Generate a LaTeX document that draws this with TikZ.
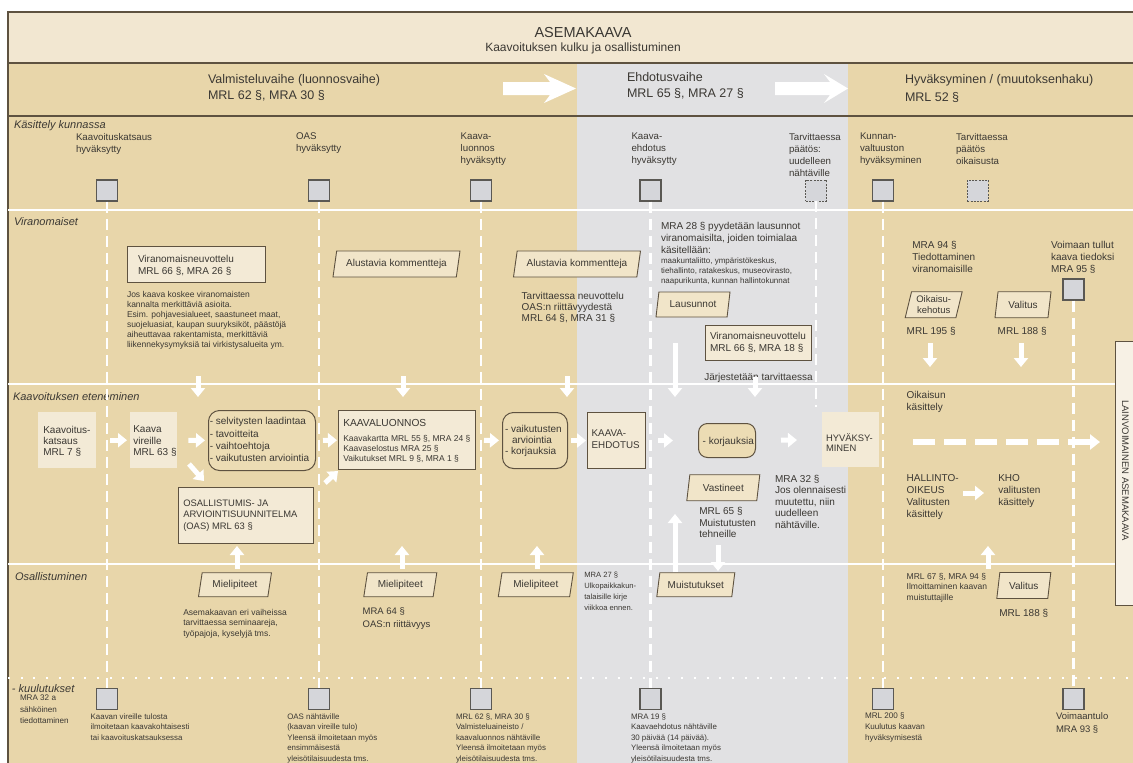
\documentclass[tikz,border=0pt]{standalone}
\usepackage{fontspec}
\setmainfont{Liberation Sans}
\usetikzlibrary{arrows.meta,shapes.geometric}
\definecolor{tanbg}{RGB}{232,214,170}
\definecolor{greybg}{RGB}{225,225,227}
\definecolor{titlebg}{RGB}{242,231,209}
\definecolor{boxcream}{RGB}{243,234,214}
\definecolor{lightcream}{RGB}{247,241,229}
\definecolor{roundfill}{RGB}{236,220,180}
\definecolor{paracream}{RGB}{241,229,201}
\definecolor{cbfill}{RGB}{213,214,218}
\definecolor{cbline}{RGB}{90,88,83}
\definecolor{brownline}{RGB}{94,82,64}
\definecolor{ink}{RGB}{59,56,51}
\newcommand\fsz[2]{\fontsize{#1}{#2}\selectfont}
\begin{document}
\begin{tikzpicture}[x=1pt,y=-1pt,
  tx/.style={inner sep=0pt, outer sep=0pt, anchor=north west, align=left, text=ink},
  lane/.style={tx, font={\fsz{11}{13}\itshape}},
  cblab/.style={tx, font={\fsz{9.7}{12}}},
  cb/.style={draw=cbline, fill=cbfill, line width=1.1pt, minimum size=21pt, inner sep=0pt},
  cbd/.style={cb, dash pattern=on 2pt off 1.3pt, line width=0.9pt},
  sqbox/.style={draw=brownline, fill=boxcream, line width=1pt, inner sep=0pt, anchor=north west},
  plainbox/.style={fill=boxcream, inner sep=0pt, anchor=north west},
  rbox/.style={draw=brownline, fill=roundfill, line width=1pt, inner sep=0pt, anchor=north west, rounded corners=11pt},
  para/.style={trapezium, trapezium left angle=72, trapezium right angle=108, trapezium stretches body=true, draw=brownline, fill=paracream, line width=0.9pt, inner sep=1pt, text=ink, font={\fsz{10}{11}}, align=center},
  warr/.style={draw=white, line width=5pt, -{Triangle[width=14pt,length=9pt]}},
  vdash/.style={draw=white, line width=2.2pt, dash pattern=on 11pt off 6pt},
]
\useasboundingbox (0,0) rectangle (1133,763);
\clip (0,0) rectangle (1133,763);
% backgrounds
\fill[white] (0,0) rectangle (1133,763);
\fill[titlebg] (8,12) rectangle (1133,63);
\fill[tanbg] (8,63) rectangle (577,763);
\fill[greybg] (577,63) rectangle (848,763);
\fill[tanbg] (848,63) rectangle (1133,763);
\draw[brownline, line width=1.2pt] (1133,12) -- (8,12) -- (8,763);
\draw[brownline, line width=1.2pt] (8,63) -- (1133,63);
\draw[brownline, line width=1.2pt] (8,116) -- (1133,116);
% lane separators
\draw[white, line width=2pt] (8,210) -- (1133,210);
\draw[white, line width=2pt] (8,384) -- (1133,384);
\draw[white, line width=2pt] (8,564) -- (1133,564);
\draw[white, line width=2pt, dash pattern=on 2pt off 10.7pt] (8,678) -- (1133,678);
% phase arrows
\fill[white] (503,82) -- (550,82) -- (544,74) -- (576,88.5) -- (544,103) -- (550,95) -- (503,95) -- cycle;
\fill[white] (775,82) -- (830,82) -- (824,74) -- (848,88.5) -- (824,103) -- (830,95) -- (775,95) -- cycle;
% title
\node[anchor=base, font={\fsz{14.5}{16}}, text=ink, inner sep=0pt] (title) at (583,37) {ASEMAKAAVA};
\node[anchor=base, font={\fsz{12}{14}}, text=ink, inner sep=0pt] (subtitle) at (583,51.5) {Kaavoituksen kulku ja osallistuminen};
\node[tx, font={\fsz{12.5}{16}}] (ph1) at (208,74.5) {Valmisteluvaihe (luonnosvaihe)\\MRL 62 §, MRA 30 §};
\node[tx, font={\fsz{12.5}{16.5}}] (ph2) at (627,72) {Ehdotusvaihe\\MRL 65 §, MRA 27 §};
\node[tx, font={\fsz{12.5}{18}}] (ph3) at (905,74) {Hyväksyminen / (muutoksenhaku)\\MRL 52 §};
% lane labels
\node[lane] (lane1) at (14,120.5) {Käsittely kunnassa};
\node[lane] (lane2) at (14,218) {Viranomaiset};
\node[lane] (lane3) at (13,392.8) {Kaavoituksen eteneminen};
\node[lane] (lane4) at (15,572.8) {Osallistuminen};
\node[lane] (lane5) at (12,684.8) {- kuulutukset};
% checkbox labels
\node[cblab] (l1) at (76,133) {Kaavoituskatsaus\\hyväksytty};
\node[cblab] (l2) at (296,133) {OAS\\hyväksytty};
\node[cblab] (l3) at (460.7,133) {Kaava-\\luonnos\\hyväksytty};
\node[cblab] (l4) at (631.5,133) {Kaava-\\ehdotus\\hyväksytty};
\node[cblab] (l5) at (789,133) {Tarvittaessa\\päätös:\\uudelleen\\nähtäville};
\node[cblab] (l6) at (860,133) {Kunnan-\\valtuuston\\hyväksyminen};
\node[cblab] (l7) at (956,133) {Tarvittaessa\\päätös\\oikaisusta};
% checkboxes
\node[cb] (k1) at (107,190.5) {};
\node[cb] (k2) at (319,190.5) {};
\node[cb] (k3) at (481,190.5) {};
\node[cb] (k4) at (650.5,190.5) {};
\node[cbd] (k5) at (816,190.5) {};
\node[cb] (k6) at (883,190.5) {};
\node[cbd] (k7) at (977.7,190.5) {};
\node[cb] (k8) at (1073.5,289.5) {};
\node[cb] (b1) at (107,699) {};
\node[cb] (b2) at (319,699) {};
\node[cb] (b3) at (481,699) {};
\node[cb] (b4) at (650.5,699) {};
\node[cb] (b5) at (883,699) {};
\node[cb] (b6) at (1073.5,699) {};
% dashed columns
\coordinate (c817) at (816,407);
\draw[vdash] (k1.south) -- (b1.north);
\draw[vdash] (k2.south) -- (b2.north);
\draw[vdash] (k3.south) -- (b3.north);
\draw[vdash] (k4.south) -- (b4.north);
\draw[vdash] (k5.south) -- (c817);
\draw[vdash] (k6.south) -- (b5.north);
\draw[vdash] (k8.south) -- (b6.north);
% Viranomaiset
\node[sqbox, minimum width=138pt, minimum height=36pt] (vn1) at (127,246) {};
\node[tx, font={\fsz{10}{11.6}}] (vn1t) at (138,255.5) {Viranomaisneuvottelu\\MRL 66 §, MRA 26 §};
\node[tx, font={\fsz{8.5}{10}}] (vn1n) at (127,291) {Jos kaava koskee viranomaisten\\kannalta merkittäviä asioita.\\Esim. pohjavesialueet, saastuneet maat,\\suojeluasiat, kaupan suuryksiköt, päästöjä\\aiheuttavaa rakentamista, merkittäviä\\liikennekysymyksiä tai virkistysalueita ym.};
\node[para, minimum width=127pt, minimum height=26pt] (ak1) at (396.5,264) {Alustavia kommentteja};
\node[para, minimum width=127pt, minimum height=26pt] (ak2) at (577,264) {Alustavia kommentteja};
\node[tx, font={\fsz{10}{11.3}}] (neuv) at (521.7,292) {Tarvittaessa neuvottelu\\OAS:n riittävyydestä\\MRL 64 §, MRA 31 §};
\node[tx, font={\fsz{10}{11.8}}] (mra28) at (661,222.7) {MRA 28 § pyydetään lausunnot\\viranomaisilta, joiden toimialaa\\käsitellään:};
\node[tx, font={\fsz{8}{9.8}}] (list28) at (661,257.8) {maakuntaliitto, ympäristökeskus,\\tiehallinto, ratakeskus, museovirasto,\\naapurikunta, kunnan hallintokunnat};
\node[para, minimum width=74pt, minimum height=25pt] (laus) at (693,304.5) {Lausunnot};
\node[sqbox, minimum width=106pt, minimum height=35pt] (vn2) at (705,325) {};
\node[tx, font={\fsz{10}{12.3}}] (vn2t) at (710,332) {Viranomaisneuvottelu\\MRL 66 §, MRA 18 §};
\node[tx, font={\fsz{10}{12}}] (jarj) at (704.3,373.3) {Järjestetään tarvittaessa};
\node[tx, font={\fsz{10}{11.9}}] (mra94) at (912.3,241) {MRA 94 §\\Tiedottaminen\\viranomaisille};
\node[tx, font={\fsz{10}{11.9}}] (voim) at (1051,241) {Voimaan tullut\\kaava tiedoksi\\MRA 95 §};
\node[para, minimum width=57pt, minimum height=26pt, font={\fsz{9.5}{10.5}}] (oik) at (933.7,304.7) {Oikaisu-\\kehotus};
\node[tx, font={\fsz{10}{12}}] (mrl195) at (906.7,327.7) {MRL 195 §};
\node[para, minimum width=56pt, minimum height=26pt] (val1) at (1023,304.7) {Valitus};
\node[tx, font={\fsz{10}{12}}] (mrl188a) at (997.7,327.7) {MRL 188 §};
% Kaavoituksen eteneminen
\node[plainbox, minimum width=58pt, minimum height=56pt] (katsaus) at (38,412) {};
\node[tx, font={\fsz{10}{11.2}}] (katsaust) at (43.3,426) {Kaavoitus-\\katsaus\\MRL 7 §};
\node[plainbox, minimum width=47pt, minimum height=56pt] (vireille) at (130,412) {};
\node[tx, font={\fsz{10}{11.2}}] (vireillet) at (133.3,426) {Kaava\\vireille\\MRL 63 §};
\node[rbox, minimum width=107pt, minimum height=60pt] (selv) at (208,410) {};
\node[tx, font={\fsz{10}{12.2}}] (selvt) at (209.8,417.7) {- selvitysten laadintaa\\- tavoitteita\\- vaihtoehtoja\\- vaikutusten arviointia};
\node[sqbox, minimum width=135pt, minimum height=56pt] (oas) at (178,487) {};
\node[tx, font={\fsz{9.4}{11.7}}] (oast) at (183.3,499.5) {OSALLISTUMIS- JA\\ARVIOINTISUUNNITELMA\\(OAS) MRL 63 §};
\node[sqbox, minimum width=137pt, minimum height=59pt] (kl) at (338,410) {};
\node[tx, font={\fsz{10.2}{12}}] (klt1) at (343.3,419) {KAAVALUONNOS};
\node[tx, font={\fsz{8.5}{10.3}}] (klt2) at (343.3,435) {Kaavakartta MRL 55 §, MRA 24 §\\Kaavaselostus MRA 25 §\\Vaikutukset MRL 9 §, MRA 1 §};
\node[rbox, minimum width=65pt, minimum height=56pt] (vaik) at (502,412) {};
\node[tx, font={\fsz{10}{11.2}}] (vaikt) at (505,425.3) {- vaikutusten\\\hspace*{7pt}arviointia\\- korjauksia};
\node[sqbox, minimum width=58pt, minimum height=56pt] (ehd) at (587,412) {};
\node[tx, font={\fsz{9.8}{12}}] (ehdt) at (591.7,430) {KAAVA-\\EHDOTUS};
\node[rbox, minimum width=57pt, minimum height=34pt, rounded corners=9pt] (korj) at (698,423) {};
\node[tx, font={\fsz{10}{12}}] (korjt) at (702.7,437.7) {- korjauksia};
\node[plainbox, minimum width=57pt, minimum height=55pt] (hyv) at (822,412) {};
\node[tx, font={\fsz{9.4}{10.2}}] (hyvt) at (826,433.5) {HYVÄKSY-\\MINEN};
\node[para, minimum width=73pt, minimum height=26pt] (vast) at (723.3,487.7) {Vastineet};
\node[tx, font={\fsz{10}{11.2}}] (mrl65) at (699.3,507.7) {MRL 65 §\\Muistutusten\\tehneille};
\node[tx, font={\fsz{10}{11.5}}] (mra32) at (775,475) {MRA 32 §\\Jos olennaisesti\\muutettu, niin\\uudelleen\\nähtäville.};
\node[tx, font={\fsz{10}{12}}] (oikk) at (906.7,391.7) {Oikaisun\\käsittely};
\node[tx, font={\fsz{10}{11.7}}] (hao) at (906.7,475) {HALLINTO-\\OIKEUS\\Valitusten\\käsittely};
\node[tx, font={\fsz{10}{11.7}}] (kho) at (998.3,475) {KHO\\valitusten\\käsittely};
\node[sqbox, fill=lightcream, minimum width=30pt, minimum height=264pt] (lainv) at (1115,341) {};
\node[text=ink, font={\fsz{9.5}{11}}, rotate=-90, inner sep=0pt] (lainvt) at (1125.5,470.5) {LAINVOIMAINEN ASEMAKAAVA};
% Osallistuminen
\node[para, minimum width=73pt, minimum height=24pt] (miel1) at (235,584.7) {Mielipiteet};
\node[tx, font={\fsz{8.5}{10.3}}] (asem) at (183.3,609.3) {Asemakaavan eri vaiheissa\\tarvittaessa seminaareja,\\työpajoja, kyselyjä tms.};
\node[para, minimum width=73pt, minimum height=24pt] (miel2) at (400.3,584.7) {Mielipiteet};
\node[tx, font={\fsz{9.5}{12.6}}] (mra64) at (362.7,607.9) {MRA 64 §\\OAS:n riittävyys};
\node[para, minimum width=75pt, minimum height=24pt] (miel3) at (535.8,584.7) {Mielipiteet};
\node[tx, font={\fsz{7.6}{10.9}}] (mra27) at (584.3,572) {MRA 27 §\\Ulkopaikkakun-\\talaisille kirje\\viikkoa ennen.};
\node[para, minimum width=78pt, minimum height=24pt] (muist) at (695.8,584.7) {Muistutukset};
\node[tx, font={\fsz{8.5}{10.3}}] (mrl67) at (906.7,573.3) {MRL 67 §, MRA 94 §\\Ilmoittaminen kaavan\\muistuttajille};
\node[para, minimum width=54pt, minimum height=26pt] (val2) at (1023.8,585.5) {Valitus};
\node[tx, font={\fsz{10}{12}}] (mrl188b) at (999.3,609.3) {MRL 188 §};
% kuulutukset
\node[tx, font={\fsz{8.1}{11.5}}] (mra32a) at (20,695) {MRA 32 a\\sähköinen\\tiedottaminen};
\node[tx, font={\fsz{7.9}{10.5}}] (kvt) at (90.7,713.5) {Kaavan vireille tulosta\\ilmoitetaan kaavakohtaisesti\\tai kaavoituskatsauksessa};
\node[tx, font={\fsz{7.9}{10.5}}] (oasn) at (287.3,713.5) {OAS nähtäville\\(kaavan vireille tulo)\\Yleensä ilmoitetaan myös\\ensimmäisestä\\yleisötilaisuudesta tms.};
\node[tx, font={\fsz{7.9}{10.5}}] (mrl62) at (456,713.5) {MRL 62 §, MRA 30 §\\Valmisteluaineisto /\\kaavaluonnos nähtäville\\Yleensä ilmoitetaan myös\\yleisötilaisuudesta tms.};
\node[tx, font={\fsz{7.9}{10.5}}] (mra19) at (631,713.5) {MRA 19 §\\Kaavaehdotus nähtäville\\30 päivää (14 päivää).\\Yleensä ilmoitetaan myös\\yleisötilaisuudesta tms.};
\node[tx, font={\fsz{8.1}{11}}] (mrl200) at (865,712.5) {MRL 200 §\\Kuulutus kaavan\\hyväksymisestä};
\node[tx, font={\fsz{9.5}{12.7}}] (voimt) at (1056,713) {Voimaantulo\\MRA 93 §};
% connectors
\coordinate (dv1) at (189,464); \coordinate (dv2) at (204,481);
\coordinate (do1) at (325,483); \coordinate (do2) at (338,471);
\coordinate (lv1) at (913,442); \coordinate (lv2) at (1100,442);
\coordinate (hk1) at (963,493); \coordinate (hk2) at (984,493);
\coordinate (v1a) at (198,376); \coordinate (v1b) at (198,397);
\coordinate (v2a) at (403,376); \coordinate (v2b) at (403,397);
\coordinate (v3a) at (567,376); \coordinate (v3b) at (567,397);
\coordinate (v4a) at (675,343); \coordinate (v4b) at (675,397);
\coordinate (v5a) at (755,377); \coordinate (v5b) at (755,397);
\coordinate (u1a) at (237,569); \coordinate (u1b) at (237,546);
\coordinate (u2a) at (402,569); \coordinate (u2b) at (402,546);
\coordinate (u3a) at (537,569); \coordinate (u3b) at (537,546);
\coordinate (u4a) at (675,572); \coordinate (u4b) at (675,514);
\coordinate (w1a) at (718,545); \coordinate (w1b) at (718,571);
\coordinate (u5a) at (988,569); \coordinate (u5b) at (988,546);
\coordinate (d1a) at (930,343); \coordinate (d1b) at (930,367);
\coordinate (d2a) at (1021,343); \coordinate (d2b) at (1021,367);
\draw[warr, shorten <=14pt, shorten >=3pt] (katsaus) -- (vireille);
\draw[warr, shorten <=11pt, shorten >=3pt] (vireille) -- (selv);
\draw[warr] (dv1) -- (dv2);
\draw[warr, shorten <=7pt, shorten >=1pt] (selv) -- (kl);
\draw[warr] (do1) -- (do2);
\draw[warr, shorten <=8pt, shorten >=3pt] (kl) -- (vaik);
\draw[warr, shorten <=3pt, shorten >=1pt] (vaik) -- (ehd);
\draw[warr, shorten <=12pt, shorten >=25pt] (ehd) -- (korj);
\draw[warr, shorten <=25pt, shorten >=25pt] (korj) -- (hyv);
\draw[draw=white, line width=5.5pt, dash pattern=on 22pt off 9pt, -{Triangle[width=15pt,length=10pt]}] (lv1) -- (lv2);
\draw[warr] (hk1) -- (hk2);
\foreach \a/\b in {v1a/v1b,v2a/v2b,v3a/v3b,v4a/v4b,v5a/v5b,u1a/u1b,u2a/u2b,u3a/u3b,u4a/u4b,w1a/w1b,u5a/u5b,d1a/d1b,d2a/d2b}
  \draw[warr] (\a) -- (\b);
\end{tikzpicture}
\end{document}
